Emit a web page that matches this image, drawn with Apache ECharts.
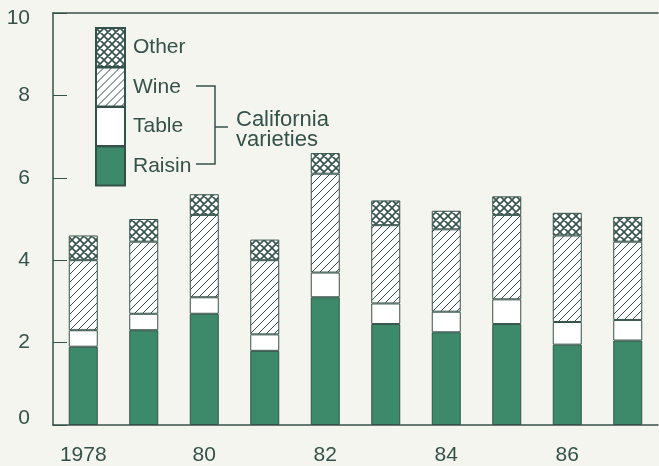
<!DOCTYPE html>
<html>
<head>
<meta charset="utf-8">
<script src="https://cdn.jsdelivr.net/npm/echarts@6/dist/echarts.min.js"></script>
<style>
  html, body { margin: 0; padding: 0; background: #f5f5ef; }
  #chart { width: 659px; height: 466px; }
</style>
</head>
<body>
<div id="chart"></div>
<script>
// years on the x axis
var years = ['1978', '79', '80', '81', '82', '83', '84', '85', '86', '87'];
// stacked values, bottom to top
var raisin = [1.9, 2.3, 2.7, 1.8, 3.1, 2.45, 2.25, 2.45, 1.95, 2.05];
var table  = [0.4, 0.4, 0.4, 0.4, 0.6, 0.5, 0.5, 0.6, 0.55, 0.5];
var wine   = [1.7, 1.75, 2.0, 1.8, 2.4, 1.9, 2.0, 2.05, 2.1, 1.9];
var other  = [0.6, 0.55, 0.5, 0.5, 0.5, 0.6, 0.45, 0.45, 0.55, 0.6];
var yTicks = [0, 2, 4, 6, 8, 10];

var ink = '#34524a';
var green = '#3d8a6b';
var font = 'Liberation Sans, Arial, sans-serif';

// small canvas tile for hatch fills
function hatch(size, cross, lw) {
  var c = document.createElement('canvas');
  c.width = size; c.height = size;
  var g = c.getContext('2d');
  g.fillStyle = '#ffffff';
  g.fillRect(0, 0, size, size);
  g.strokeStyle = ink;
  g.lineWidth = lw;
  g.beginPath();
  // "/" lines
  g.moveTo(0, size); g.lineTo(size, 0);
  g.moveTo(-2, 2); g.lineTo(2, -2);
  g.moveTo(size - 2, size + 2); g.lineTo(size + 2, size - 2);
  if (cross) {
    // "\" lines
    g.moveTo(0, 0); g.lineTo(size, size);
    g.moveTo(-2, size - 2); g.lineTo(2, size + 2);
    g.moveTo(size - 2, -2); g.lineTo(size + 2, 2);
  }
  g.stroke();
  return c;
}

var wineFill = { image: hatch(8, false, 1), repeat: 'repeat' };
var otherFill = { image: hatch(8, true, 1.6), repeat: 'repeat' };

function seg(name, data, fill) {
  return {
    name: name,
    type: 'bar',
    stack: 'total',
    barWidth: 29,
    data: data,
    itemStyle: { color: fill, borderColor: ink, borderWidth: 1 },
    emphasis: { disabled: true }
  };
}

var labelBase = { color: ink, fontSize: 21, fontFamily: font };

var chart = echarts.init(document.getElementById('chart'));
chart.setOption({
  backgroundColor: '#f5f5ef',
  animation: false,
  grid: { left: 53, right: 1, top: 13, bottom: 41 },
  legend: {
    orient: 'vertical',
    left: 90,
    top: 22,
    itemWidth: 29,
    itemHeight: 39,
    itemGap: -1.5,
    icon: 'rect',
    selectedMode: false,
    data: ['Other', 'Wine', 'Table', 'Raisin'],
    textStyle: { color: ink, fontSize: 21, fontFamily: font, padding: [0, 0, 0, 3] }
  },
  xAxis: [{
    type: 'category',
    data: years,
    axisLine: { lineStyle: { color: ink, width: 1.5 } },
    axisTick: { show: false },
    axisLabel: { interval: 1, color: ink, fontSize: 21, fontFamily: font, margin: 20 }
  }, {
    type: 'category',
    position: 'top',
    data: years,
    axisLine: { lineStyle: { color: ink, width: 1.5 } },
    axisTick: { show: false },
    axisLabel: { show: false }
  }],
  yAxis: {
    type: 'value',
    min: yTicks[0],
    max: yTicks[yTicks.length - 1],
    interval: 2,
    splitLine: { show: false },
    axisLine: { show: true, lineStyle: { color: ink, width: 1.5 } },
    axisTick: { show: true, inside: true, length: 14, lineStyle: { color: ink } },
    axisLabel: {
      color: ink, fontSize: 21, fontFamily: font, margin: 23,
      formatter: function (v) {
        if (v === 0) return '{lo|0}';
        if (v === 10) return '{hi|10}';
        return v;
      },
      rich: {
        lo: Object.assign({ padding: [0, 0, 14, 0] }, labelBase),
        hi: Object.assign({ padding: [10, 0, 0, 0] }, labelBase)
      }
    }
  },
  graphic: [
    {
      type: 'polyline',
      shape: { points: [[196, 86], [215, 86], [215, 164], [196, 164]] },
      style: { stroke: ink, lineWidth: 1.5, fill: null }
    },
    {
      type: 'line',
      shape: { x1: 215, y1: 127, x2: 228, y2: 127 },
      style: { stroke: ink, lineWidth: 1.5 }
    },
    {
      type: 'text',
      left: 236,
      top: 109,
      style: {
        text: 'California\nvarieties',
        fill: ink,
        font: '22px ' + font,
        lineHeight: 20
      }
    }
  ],
  series: [
    seg('Raisin', raisin, green),
    seg('Table', table, '#ffffff'),
    seg('Wine', wine, wineFill),
    seg('Other', other, otherFill)
  ]
});
</script>
</body>
</html>
